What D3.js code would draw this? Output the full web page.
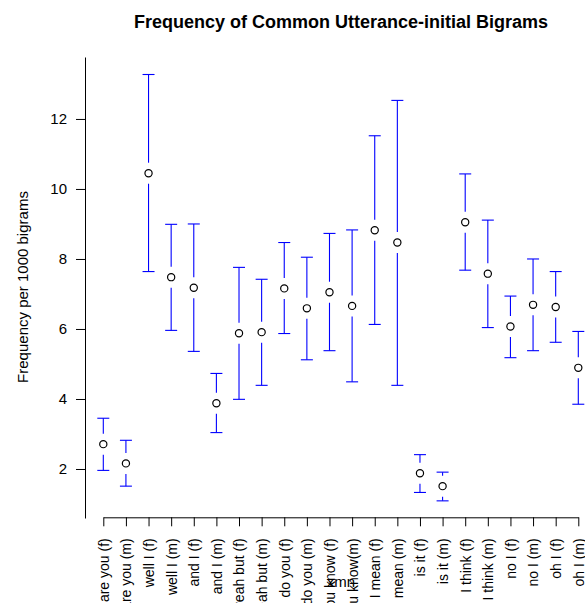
<!DOCTYPE html>
<html>
<head>
<meta charset="utf-8">
<script src="https://cdn.jsdelivr.net/npm/d3@7"></script>
<style>
  body { margin: 0; background: #fff; }
  text { font-family: "Liberation Sans", Arial, Helvetica, sans-serif; }
</style>
</head>
<body>
<script>
// bigram categories, means and CI limits
const cats = ["are you (f)", "are you (m)", "well I (f)", "well I (m)", "and I (f)", "and I (m)",
              "yeah but (f)", "yeah but (m)", "do you (f)", "do you (m)", "you know (f)", "you know(m)",
              "I mean (f)", "I mean (m)", "is it (f)", "is it (m)", "I think (f)", "I think (m)",
              "no I (f)", "no I (m)", "oh I (f)", "oh I (m)"];
const means = [2.71, 2.16, 10.45, 7.48, 7.18, 3.88, 5.88, 5.91, 7.16, 6.59, 7.05, 6.66,
               8.82, 8.47, 1.88, 1.51, 9.05, 7.58, 6.07, 6.69, 6.63, 4.89];
const lower = [1.96, 1.51, 7.64, 5.96, 5.36, 3.04, 3.99, 4.39, 5.87, 5.12, 5.38, 4.49,
               6.13, 4.39, 1.33, 1.09, 7.68, 6.04, 5.18, 5.38, 5.62, 3.85];
const upper = [3.45, 2.82, 13.27, 8.99, 9.00, 4.73, 7.76, 7.42, 8.47, 8.05, 8.73, 8.83,
               11.52, 12.53, 2.41, 1.91, 10.43, 9.11, 6.94, 8.00, 7.64, 5.93];
const yTicks = [2, 4, 6, 8, 10, 12];

const width = 585, height = 603;
const svg = d3.select("body").append("svg")
              .attr("width", width)
              .attr("height", height);

const x = d3.scalePoint().domain(cats).range([103.3, 578.3]);
const y = d3.scaleLinear().domain([0.6, 13.77]).range([518, 57]);

// y axis
const yAxis = svg.append("g")
   .attr("transform", "translate(85,0)")
   .call(d3.axisLeft(y).tickValues(yTicks).tickSize(9).tickSizeOuter(0).tickPadding(9));
yAxis.selectAll("text").attr("font-size", 15).attr("fill", "#000");
yAxis.selectAll("line, path").attr("stroke", "#000");

// x axis
const xAxis = svg.append("g")
   .attr("transform", "translate(0,517.3)")
   .call(d3.axisBottom(x).tickSize(9).tickSizeOuter(0));
xAxis.selectAll("line, path").attr("stroke", "#000");
xAxis.selectAll("text")
   .attr("font-size", 14)
   .attr("fill", "#000")
   .attr("transform", "rotate(-90)")
   .attr("text-anchor", "end")
   .attr("x", -21)
   .attr("y", 0)
   .attr("dy", "0.35em");

// error bars
const gap = 10.5, cap = 6;
const data = cats.map((c, i) => ({c: c, m: means[i], lo: lower[i], hi: upper[i]}));
const bars = svg.append("g").attr("stroke", "#0000ff").attr("stroke-width", 1.1);
data.forEach(d => {
  const cx = x(d.c), cy = y(d.m);
  bars.append("line").attr("x1", cx).attr("x2", cx)
      .attr("y1", y(d.hi)).attr("y2", Math.min(cy - gap, y(d.lo)));
  bars.append("line").attr("x1", cx).attr("x2", cx)
      .attr("y1", Math.max(cy + gap, y(d.hi))).attr("y2", y(d.lo));
  bars.append("line").attr("x1", cx - cap).attr("x2", cx + cap)
      .attr("y1", y(d.hi)).attr("y2", y(d.hi));
  bars.append("line").attr("x1", cx - cap).attr("x2", cx + cap)
      .attr("y1", y(d.lo)).attr("y2", y(d.lo));
});

svg.append("g")
   .selectAll("circle")
   .data(data)
   .enter()
   .append("circle")
   .attr("cx", d => x(d.c))
   .attr("cy", d => y(d.m))
   .attr("r", 3.6)
   .attr("fill", "#fff")
   .attr("stroke", "#000")
   .attr("stroke-width", 1.2);

// titles
svg.append("text")
   .attr("x", 341).attr("y", 28)
   .attr("text-anchor", "middle")
   .attr("font-size", 18)
   .attr("font-weight", "bold")
   .text("Frequency of Common Utterance-initial Bigrams");

svg.append("text")
   .attr("transform", "translate(28,287) rotate(-90)")
   .attr("text-anchor", "middle")
   .attr("font-size", 15)
   .text("Frequency per 1000 bigrams");

svg.append("text")
   .attr("x", 341).attr("y", 587)
   .attr("text-anchor", "middle")
   .attr("font-size", 15)
   .text("xmn");
</script>
</body>
</html>
